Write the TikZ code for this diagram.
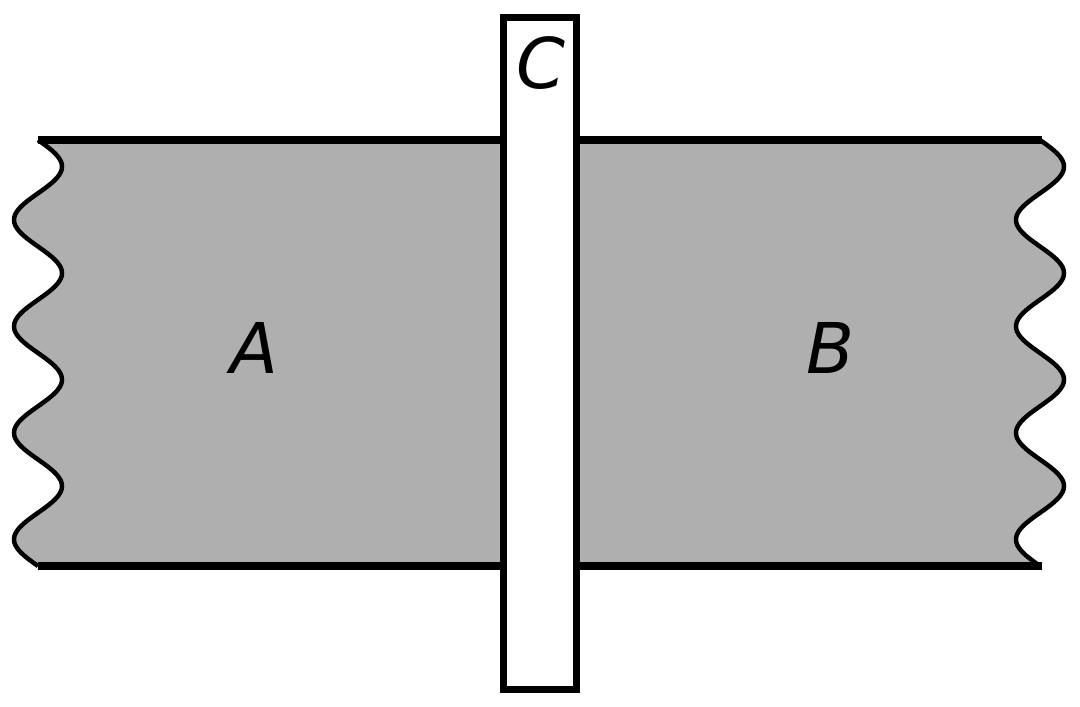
\documentclass[tikz,border=0pt]{standalone}
\usepackage{fontspec}
\setmainfont{DejaVu Sans}
\definecolor{bandgray}{RGB}{175,175,175}
\begin{document}
\begin{tikzpicture}[x=1pt,y=-1pt,
  wave/.style={line width=4.5pt},
  edge/.style={line width=8pt},
  rod/.style={draw=black,fill=white,line width=6.5pt},
  lbl/.style={font=\fontsize{70}{84}\selectfont\itshape,inner sep=0pt}]
\useasboundingbox (0,0) rectangle (1080,707);
% gray band
\fill[bandgray] (38,140) -- (1040,140)
  -- plot[domain=140:566,samples=161,smooth] ({1040+24*sin((\x-140)*3.38028)},\x)
  -- (38,566)
  -- plot[domain=566:140,samples=161,smooth] ({38+24*sin((\x-140)*3.38028)},\x)
  -- cycle;
% wavy edges
\draw[wave] plot[domain=140:566,samples=161,smooth] ({38+24*sin((\x-140)*3.38028)},\x);
\draw[wave] plot[domain=140:566,samples=161,smooth] ({1040+24*sin((\x-140)*3.38028)},\x);
% top and bottom edges
\draw[edge] (38,140) -- (1042,140);
\draw[edge] (38,566) -- (1042,566);
% rod C
\draw[rod] (503.5,17.3) rectangle (576.7,689.3);
% labels
\node[lbl] (A) at (254,348) {A};
\node[lbl] (B) at (831,348) {B};
\node[lbl] (C) at (541,63) {C};
\end{tikzpicture}
\end{document}
